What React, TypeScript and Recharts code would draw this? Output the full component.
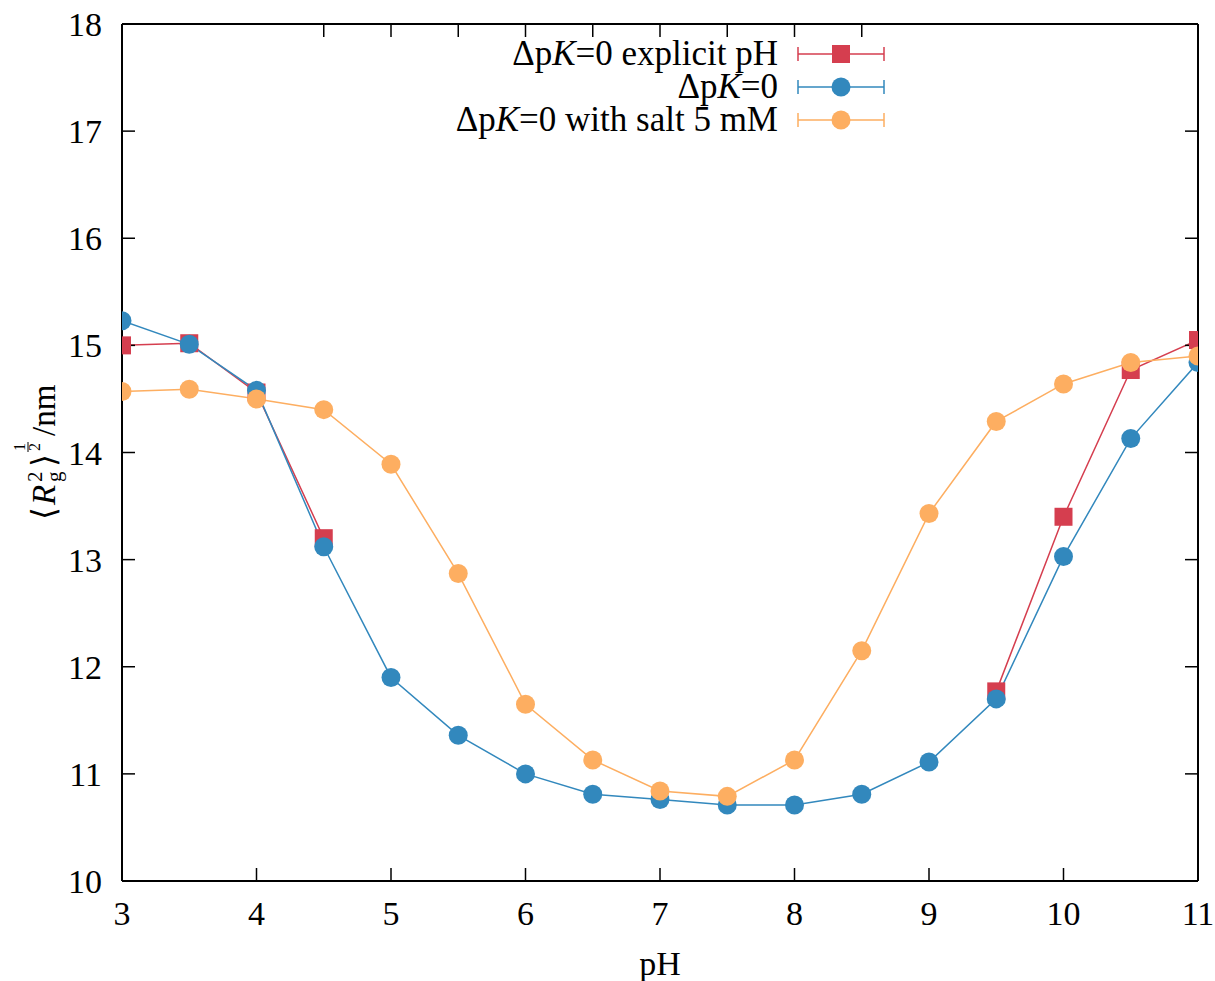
import React from "react"
import { LineChart, Line, XAxis, YAxis } from "recharts"

// pH values shared by all series
const PH = [3, 3.5, 4, 4.5, 5, 5.5, 6, 6.5, 7, 7.5, 8, 8.5, 9, 9.5, 10, 10.5, 11]

// radius of gyration, nm (gap in the explicit-pH run between 4.5 and 9.5)
const EXPLICIT_PH = [15.0, 15.02, 14.56, 13.2, null, null, null, null, null, null, null, null, null, 11.77, 13.4, 14.77, 15.05]
const DPK0 = [15.23, 15.01, 14.58, 13.12, 11.9, 11.36, 11.0, 10.81, 10.76, 10.71, 10.71, 10.81, 11.11, 11.7, 13.03, 14.13, 14.84]
const DPK0_SALT = [14.57, 14.59, 14.5, 14.4, 13.89, 12.87, 11.65, 11.13, 10.84, 10.79, 11.13, 12.15, 13.43, 14.29, 14.64, 14.84, 14.9]

const X_TICKS = [3, 4, 5, 6, 7, 8, 9, 10, 11]
const Y_TICKS = [10, 11, 12, 13, 14, 15, 16, 17, 18]

const RED = "#d53e4f"
const BLUE = "#3288bd"
const ORANGE = "#fdae61"
const FONT = "'Liberation Serif', 'DejaVu Serif', serif"

const data = PH.map((ph, i) => ({
  ph,
  explicit: EXPLICIT_PH[i],
  dpk: DPK0[i],
  salt: DPK0_SALT[i],
}))

const SERIES = [
  { key: "explicit", color: RED, shape: "square", suffix: " explicit pH" },
  { key: "dpk", color: BLUE, shape: "circle", suffix: "" },
  { key: "salt", color: ORANGE, shape: "circle", suffix: " with salt 5 mM" },
]

const SquareDot = (props: any) => {
  const { cx, cy, stroke } = props
  if (cx == null || cy == null || props.value == null) return <g key={props.index} />
  return <rect key={props.index} x={cx - 9} y={cy - 9} width={18} height={18} fill={stroke} />
}

const CircleDot = (props: any) => {
  const { cx, cy, stroke } = props
  if (cx == null || cy == null || props.value == null) return <g key={props.index} />
  return <circle key={props.index} cx={cx} cy={cy} r={9.5} fill={stroke} />
}

// key box drawn over the top of the plot, gnuplot style
function KeyBox() {
  return (
    <svg width={470} height={110} style={{ position: "absolute", left: 440, top: 30 }}>
      {SERIES.map((s, i) => {
        const cy = 24 + i * 33
        return (
          <g key={s.key}>
            <text x={338} y={cy + 11} textAnchor="end" fontSize={35} fontFamily={FONT} fill="#000">
              Δp<tspan fontStyle="italic">K</tspan>=0{s.suffix}
            </text>
            <line x1={358} x2={444} y1={cy} y2={cy} stroke={s.color} strokeWidth={1.5} />
            <line x1={358} x2={358} y1={cy - 7} y2={cy + 7} stroke={s.color} strokeWidth={1.5} />
            <line x1={444} x2={444} y1={cy - 7} y2={cy + 7} stroke={s.color} strokeWidth={1.5} />
            {s.shape === "square" ? (
              <rect x={392} y={cy - 9} width={18} height={18} fill={s.color} />
            ) : (
              <circle cx={401} cy={cy} r={9.5} fill={s.color} />
            )}
          </g>
        )
      })}
    </svg>
  )
}

// ⟨R_g^2⟩^(1/2)/nm, rotated
function YTitle() {
  return (
    <g transform="translate(55, 520) rotate(-90)" fontFamily={FONT} fill="#000">
      <text x={0} y={0} fontSize={33}>⟨</text>
      <text x={15} y={0} fontSize={33} fontStyle="italic">R</text>
      <text x={38} y={-13} fontSize={21}>2</text>
      <text x={38} y={6} fontSize={21}>g</text>
      <text x={53} y={0} fontSize={33}>⟩</text>
      <text x={69} y={-30} fontSize={16}>1</text>
      <line x1={68} x2={78} y1={-27} y2={-27} stroke="#000" strokeWidth={1} />
      <text x={69} y={-15} fontSize={16}>2</text>
      <text x={84} y={0} fontSize={33}>/nm</text>
    </g>
  )
}

const tickStyle = { fontSize: 34, fill: "#000", fontFamily: FONT }
const lineStyle = { stroke: "#000", strokeWidth: 1.5 }
const axisStyle = { stroke: "#000", strokeWidth: 2 }

export default function App() {
  return (
    <div style={{ position: "absolute", left: 0, top: 0, width: 1215, height: 981, background: "#fff" }}>
      <LineChart width={1215} height={981} data={data} margin={{ top: 0, right: 0, bottom: 0, left: 0 }}>
        <XAxis
          dataKey="ph"
          type="number"
          domain={[3, 11]}
          ticks={X_TICKS}
          allowDataOverflow
          height={100}
          tickSize={-13}
          tickMargin={33}
          tick={tickStyle}
          tickLine={lineStyle}
          axisLine={axisStyle}
          label={{ value: "pH", position: "insideBottom", offset: 6, fontSize: 34, fill: "#000", fontFamily: FONT }}
        />
        <XAxis
          xAxisId="top"
          orientation="top"
          type="number"
          domain={[3, 11]}
          ticks={X_TICKS}
          allowDataOverflow
          height={24}
          tickSize={-13}
          tickFormatter={() => ""}
          tickLine={lineStyle}
          axisLine={axisStyle}
        />
        <YAxis
          type="number"
          domain={[10, 18]}
          ticks={Y_TICKS}
          allowDataOverflow
          width={122}
          tickSize={-13}
          tickMargin={33}
          tick={tickStyle}
          tickLine={lineStyle}
          axisLine={axisStyle}
          label={{ content: () => <YTitle /> }}
        />
        <YAxis
          yAxisId="right"
          orientation="right"
          type="number"
          domain={[10, 18]}
          ticks={Y_TICKS}
          allowDataOverflow
          width={17}
          tickSize={-13}
          tickFormatter={() => ""}
          tickLine={lineStyle}
          axisLine={axisStyle}
        />
        <Line
          dataKey="explicit"
          stroke={RED}
          strokeWidth={1.5}
          dot={<SquareDot />}
          activeDot={false}
          connectNulls={false}
          isAnimationActive={false}
        />
        <Line
          dataKey="dpk"
          stroke={BLUE}
          strokeWidth={1.5}
          dot={<CircleDot />}
          activeDot={false}
          isAnimationActive={false}
        />
        <Line
          dataKey="salt"
          stroke={ORANGE}
          strokeWidth={1.5}
          dot={<CircleDot />}
          activeDot={false}
          isAnimationActive={false}
        />
      </LineChart>
      <KeyBox />
    </div>
  )
}
